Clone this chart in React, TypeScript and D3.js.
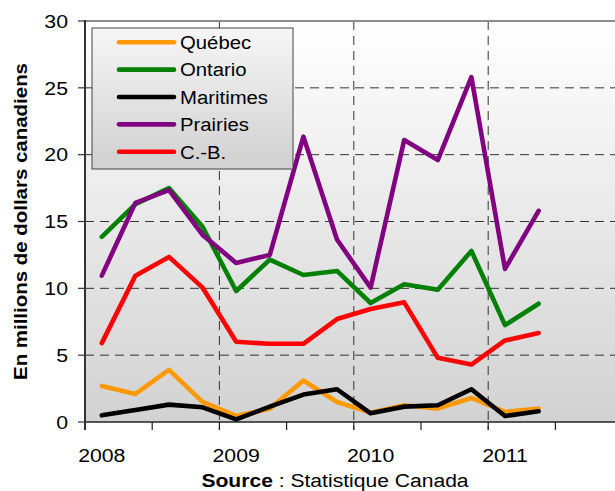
import React from "react";
import * as d3 from "d3";

const quarters = [
  "2008T1", "2008T2", "2008T3", "2008T4",
  "2009T1", "2009T2", "2009T3", "2009T4",
  "2010T1", "2010T2", "2010T3", "2010T4",
  "2011T1", "2011T2", "2011T3", "2011T4",
];
const yearLabels = ["2008", "2009", "2010", "2011"];
const yTicks = [0, 5, 10, 15, 20, 25, 30];

const quebec = [2.7, 2.1, 3.9, 1.5, 0.45, 1.0, 3.1, 1.5, 0.7, 1.25, 1.0, 1.8, 0.75, 1.0];
const ontario = [13.85, 16.3, 17.5, 14.6, 9.8, 12.15, 11.0, 11.3, 8.9, 10.3, 9.9, 12.8, 7.25, 8.85];
const maritimes = [0.5, 0.9, 1.3, 1.1, 0.2, 1.15, 2.05, 2.45, 0.65, 1.15, 1.25, 2.45, 0.45, 0.8];
const prairies = [10.95, 16.4, 17.35, 14.0, 11.9, 12.5, 21.35, 13.65, 10.05, 21.1, 19.6, 25.8, 11.45, 15.8];
const cb = [5.9, 10.95, 12.35, 10.05, 6.0, 5.85, 5.85, 7.7, 8.45, 8.95, 4.8, 4.3, 6.1, 6.65];

const seriesNames = ["Québec", "Ontario", "Maritimes", "Prairies", "C.-B."];
const seriesValues = [quebec, ontario, maritimes, prairies, cb];
const seriesColors = ["#FF9900", "#008000", "#000000", "#800080", "#FF0000"];

const W = 615;
const H = 491;
const left = 85;
const top = 21;
const bottom = 422;
const plotRight = 85 + 33.6 * 16;

export default function App() {
  const x = d3.scaleBand<string>().domain(quarters).range([left, plotRight]).padding(0);
  const y = d3.scaleLinear().domain([0, 30]).range([bottom, top]);
  const bw = x.bandwidth();
  const line = d3
    .line<number>()
    .x((_, i) => (x(quarters[i]) as number) + bw / 2)
    .y((d) => y(d));

  const boundaries = d3.range(0, quarters.length + 1).map((k) => left + k * bw);
  const font = "Arial, 'Liberation Sans', sans-serif";

  return (
    <svg
      width={W}
      height={H}
      style={{ position: "absolute", left: 0, top: 0, background: "#fff" }}
      fontFamily={font}
    >
      <defs>
        <linearGradient id="plotBg" x1="0" y1="0" x2="0" y2="1">
          <stop offset="0" stopColor="#ffffff" />
          <stop offset="1" stopColor="#d2d2d2" />
        </linearGradient>
        <linearGradient id="legBg" x1="0" y1="0" x2="0" y2="1">
          <stop offset="0" stopColor="#f6f6f6" />
          <stop offset="1" stopColor="#d0d0d0" />
        </linearGradient>
      </defs>
      <rect x={left} y={top} width={plotRight - left} height={bottom - top} fill="url(#plotBg)" />

      {/* horizontal gridlines */}
      {yTicks
        .filter((t) => t > 0 && t < 30)
        .map((t) => (
          <line
            key={"hg" + t}
            x1={left}
            x2={plotRight}
            y1={y(t)}
            y2={y(t)}
            stroke="#333"
            strokeWidth={1}
            strokeDasharray="9,6"
          />
        ))}
      {/* vertical gridlines at year boundaries */}
      {boundaries
        .filter((_, k) => k > 0 && k % 4 === 0 && k < quarters.length)
        .map((bx, i) => (
          <line
            key={"vg" + i}
            x1={bx}
            x2={bx}
            y1={top}
            y2={bottom + 8}
            stroke="#333"
            strokeWidth={1}
            strokeDasharray="9,6"
          />
        ))}
      {/* top border */}
      <line x1={left} x2={W} y1={top} y2={top} stroke="#8c8c8c" strokeWidth={2} />

      {/* x axis */}
      <line x1={left - 1} x2={W} y1={bottom} y2={bottom} stroke="#222" strokeWidth={1.5} />
      {boundaries
        .filter((_, k) => k % 2 === 0)
        .map((bx, i) => (
          <line key={"xt" + i} x1={bx} x2={bx} y1={bottom} y2={bottom + 8} stroke="#222" strokeWidth={1.2} />
        ))}
      {yearLabels.map((yl, i) => {
        const cx = (x(quarters[i * 4]) as number) + bw / 2;
        return (
          <text
            key={yl}
            transform={`translate(${cx},461.5) scale(1.12,1)`}
            textAnchor="middle"
            fontSize={19}
            fill="#000"
          >
            {yl}
          </text>
        );
      })}

      {/* y axis */}
      <line x1={left} x2={left} y1={top - 1} y2={bottom + 8} stroke="#333" strokeWidth={2} />
      {yTicks.map((t) => (
        <g key={"yt" + t}>
          <line x1={left - 7} x2={left} y1={y(t)} y2={y(t)} stroke="#333" strokeWidth={1.2} />
          <text
            transform={`translate(68,${y(t) + 6.8}) scale(1.12,1)`}
            textAnchor="end"
            fontSize={19}
            fill="#000"
          >
            {t}
          </text>
        </g>
      ))}

      {/* series */}
      {seriesValues.map((vals, si) => (
        <path
          key={seriesNames[si]}
          d={line(vals) as string}
          fill="none"
          stroke={seriesColors[si]}
          strokeWidth={4.6}
          strokeLinejoin="round"
          strokeLinecap="round"
        />
      ))}

      {/* legend */}
      <rect x={92} y={28} width={201} height={141} fill="url(#legBg)" stroke="#444" strokeWidth={1} />
      {seriesNames.map((n, i) => {
        const cy = 42.3 + i * 27.35;
        return (
          <g key={"lg" + n}>
            <line x1={119} x2={174} y1={cy} y2={cy} stroke={seriesColors[i]} strokeWidth={4.6} strokeLinecap="round" />
            <text transform={`translate(180,${cy + 6.8}) scale(1.07,1)`} fontSize={19} fill="#000">
              {n}
            </text>
          </g>
        );
      })}

      {/* y title */}
      <text
        transform="translate(26.5,221.5) rotate(-90)"
        textAnchor="middle"
        fontSize={19}
        fontWeight="bold"
        fill="#000"
        textLength={317}
        lengthAdjust="spacingAndGlyphs"
      >
        En millions de dollars canadiens
      </text>

      {/* source */}
      <text transform="translate(335,487) scale(1.11,1)" textAnchor="middle" fontSize={19} fill="#000">
        <tspan fontWeight="bold">Source</tspan>
        <tspan> : Statistique Canada</tspan>
      </text>
    </svg>
  );
}
